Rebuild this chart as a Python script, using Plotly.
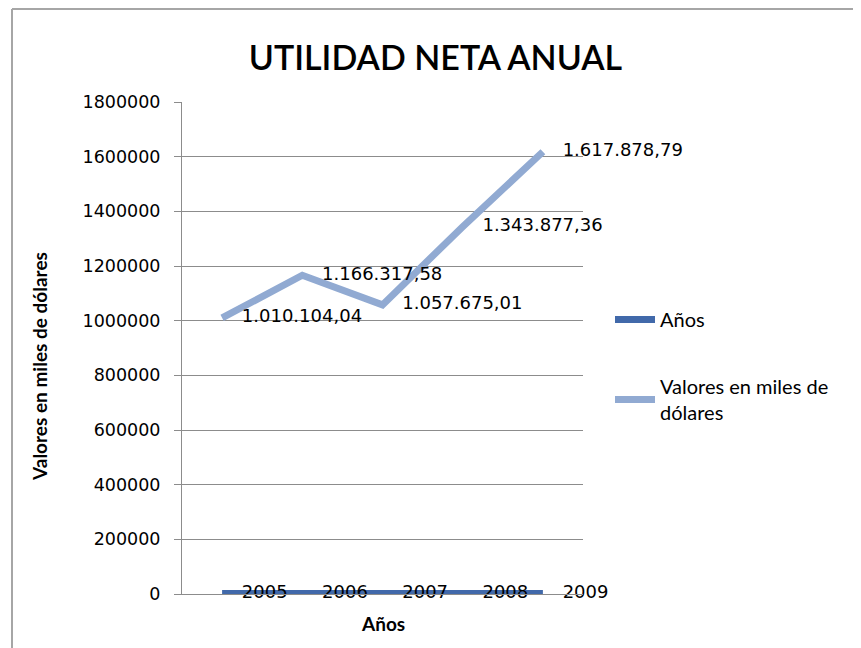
import plotly.graph_objects as go

years = [2005, 2006, 2007, 2008, 2009]
year_labels = ["2005", "2006", "2007", "2008", "2009"]
values = [1010104.04, 1166317.58, 1057675.01, 1343877.36, 1617878.79]
value_labels = ["1.010.104,04", "1.166.317,58", "1.057.675,01", "1.343.877,36", "1.617.878,79"]
y_ticks = [0, 200000, 400000, 600000, 800000, 1000000, 1200000, 1400000, 1600000, 1800000]

# page body has an 8px default margin; work in screen coordinates
O = 8
W, H = 861 - O, 648 - O
L, T = 182 - O, 102 - O
pw, ph = 401, 492
R, B = W - L - pw, H - T - ph


def px_x(p):
    return (p - O - L) / pw


def px_y(p):
    return (O + T + ph - p) / ph


cats = list(range(len(years)))
dark = "#4169AA"
light = "#91AAD2"
lab_font = dict(family="DejaVu Sans", size=18, color="#000000")

fig = go.Figure()
fig.add_trace(go.Scatter(
    x=cats, y=years, name="Años", mode="lines+markers+text",
    line=dict(color=dark, width=7),
    marker=dict(size=30, color="rgba(0,0,0,0)"),
    text=year_labels, textposition="middle right", textfont=lab_font,
    legendgroup="a", cliponaxis=False,
))
fig.add_trace(go.Scatter(
    x=cats, y=values, name="Valores en miles de<br>dólares", mode="lines+markers+text",
    line=dict(color=light, width=7),
    marker=dict(size=30, color="rgba(0,0,0,0)"),
    text=value_labels, textposition="middle right", textfont=lab_font,
    legendgroup="b", cliponaxis=False,
))

fig.update_layout(
    width=W, height=H,
    margin=dict(l=L, r=R, t=T, b=B),
    paper_bgcolor="white", plot_bgcolor="white",
    title=dict(text="UTILIDAD NETA ANUAL", x=(435.5 - O) / W, xanchor="center",
               y=1 - (58 - O) / H, yanchor="middle", yref="container",
               font=dict(family="Lato", size=34, color="#000000", weight=600)),
    xaxis=dict(range=[-0.5, 4.5], showticklabels=False, showgrid=False,
               showline=True, linecolor="#8c8c8c", linewidth=1, zeroline=False,
               ticks=""),
    yaxis=dict(range=[0, 1800000], tickvals=y_ticks, ticktext=[str(v) for v in y_ticks],
               showgrid=True, gridcolor="#8c8c8c", gridwidth=1,
               showline=True, linecolor="#8c8c8c", linewidth=1, zeroline=False,
               ticks="outside", ticklen=7, tickcolor="#8c8c8c",
               ticklabelstandoff=10,
               tickfont=dict(family="DejaVu Sans", size=17.5, color="#000000")),
    legend=dict(x=px_x(610), y=px_y(300), xanchor="left", yanchor="top",
                font=dict(family="Lato", size=20, color="#000000"),
                tracegroupgap=38, bgcolor="rgba(0,0,0,0)", itemwidth=40),
    showlegend=True,
    annotations=[
        dict(text="Valores en miles de dólares", textangle=-90, showarrow=False,
             xref="paper", yref="paper", x=px_x(39), y=px_y(367),
             xanchor="center", yanchor="middle",
             font=dict(family="Lato", size=19, color="#000000", weight="bold")),
        dict(text="Años", showarrow=False, xref="paper", yref="paper",
             x=px_x(383), y=px_y(623), xanchor="center", yanchor="middle",
             font=dict(family="Lato", size=19, color="#000000", weight="bold")),
    ],
    shapes=[
        dict(type="line", xref="paper", yref="paper", x0=px_x(12), x1=px_x(875),
             y0=px_y(9), y1=px_y(9), line=dict(color="#a6a6a6", width=2)),
        dict(type="line", xref="paper", yref="paper", x0=px_x(12), x1=px_x(12),
             y0=px_y(9), y1=px_y(660), line=dict(color="#a6a6a6", width=2)),
    ],
)

fig.write_html("out.html")
